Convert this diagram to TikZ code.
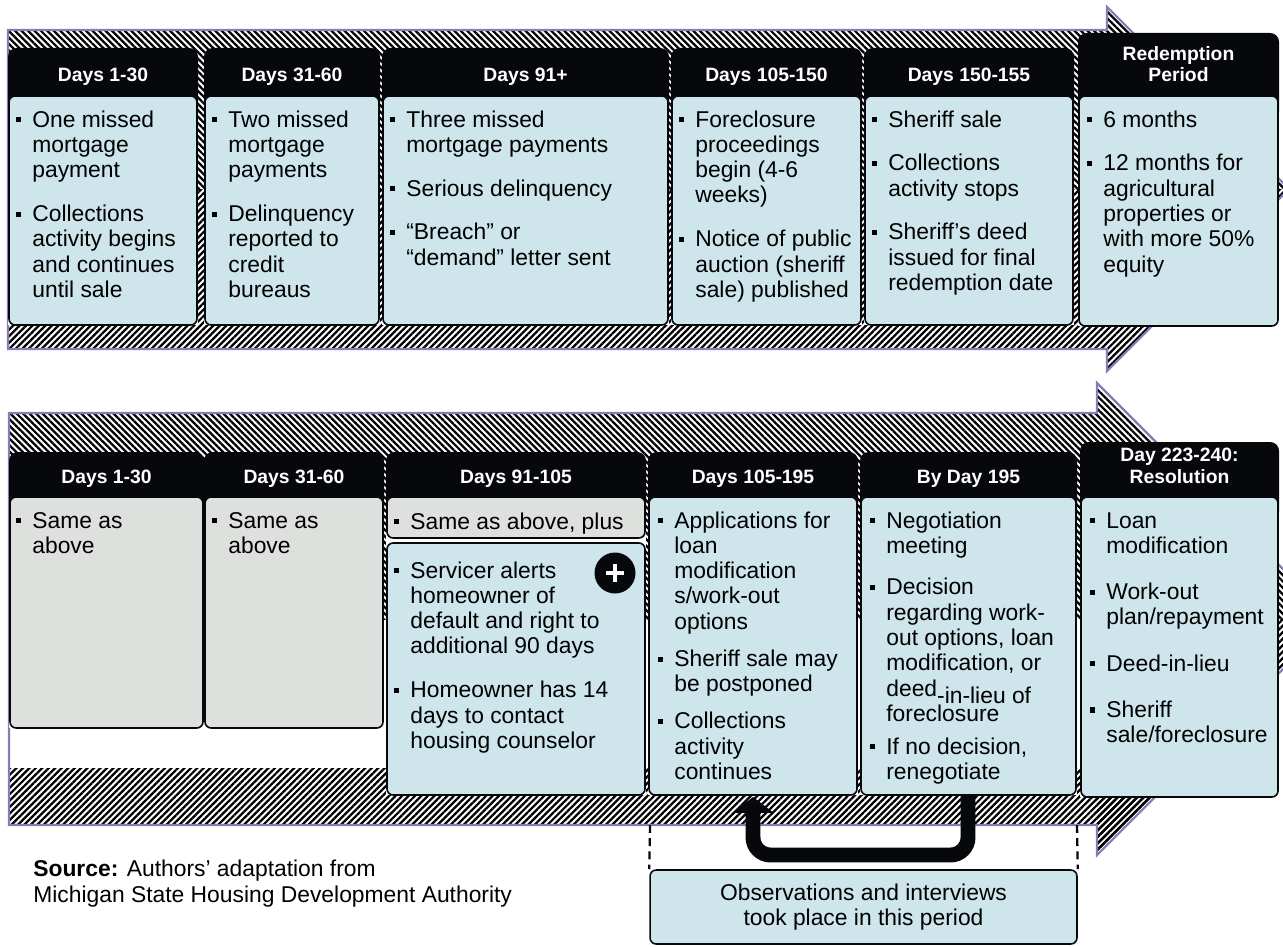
\documentclass[tikz,border=0pt]{standalone}
\usepackage{fontspec}
\setmainfont{Liberation Sans}
\usetikzlibrary{arrows.meta,patterns.meta}

\definecolor{cardblue}{RGB}{205,229,235}
\definecolor{cardgray}{RGB}{222,224,222}
\definecolor{headblack}{RGB}{6,8,12}
\definecolor{arrowrim}{RGB}{137,124,181}

\newcommand{\bodyfont}{\fontsize{13pt}{14.4pt}\selectfont}
\newcommand{\bul}{\strut\llap{\raisebox{2.7pt}{\rule{2.9pt}{2.9pt}}\hspace{6.3pt}}}
\newcommand{\twolines}[2]{\begin{tabular}[b]{@{}c@{}}#1\\#2\end{tabular}}
\newcommand*{\upperband}{(8,30) -- (1107,30) -- (1107,7) -- (1289,189) -- (1107,371) -- (1107,349) -- (8,349) -- cycle}
\newcommand*{\lowerband}{(9,413) -- (1097,413) -- (1097,383) -- (1333,619) -- (1097,855) -- (1097,825) -- (9,825) -- cycle}

% left, right, header top, card top, card bottom, title, name, card style
\newcommand{\stage}[8]{%
  \fill[white] (#1,#4) rectangle (#2,#5);
  \fill[headblk] (#1,#3) rectangle (#2,#4+24);
  \node[htext] (#7) at ({(#1+#2)/2},#4-14) {#6};
  \draw[#8] (#1+1,#4) rectangle (#2-1,#5);}

\begin{document}
\begin{tikzpicture}[x=0.02cm, y=-0.02cm,
    hatchdown/.style={pattern={Lines[angle=-45,distance=2.6pt,line width=1.3pt]}},
    hatchup/.style={pattern={Lines[angle=45,distance=2.6pt,line width=1.3pt]}},
    rim/.style={draw=arrowrim, line width=1.2pt},
    headblk/.style={fill=headblack, rounded corners=5pt},
    htext/.style={anchor=base, text=white, inner sep=0pt,
        font=\bfseries\fontsize{11pt}{12pt}\selectfont},
    card/.style={draw=headblack, line width=0.9pt, fill=cardblue, rounded corners=3.5pt},
    gcard/.style={card, fill=cardgray},
    btext/.style={anchor=north west, inner sep=0pt, align=left, font=\bodyfont},
    plusmark/.style={circle, fill=headblack, minimum size=0.82cm, inner sep=0pt,
        path picture={
          \draw[white, line width=1.9pt]
            (path picture bounding box.center) ++(-0.18cm,0) -- ++(0.36cm,0)
            (path picture bounding box.center) ++(0,-0.18cm) -- ++(0,0.36cm);}},
    loopback/.style={draw=headblack, line width=8.5pt, rounded corners=10pt,
        -{Triangle[width=23pt,length=9pt]}},
    period/.style={draw=headblack, line width=1.3pt, dash pattern=on 4.5pt off 3pt},
    note/.style={card, minimum width=8.54cm, minimum height=1.48cm, align=center,
        font=\fontsize{13pt}{14.2pt}\selectfont}
  ]
  \useasboundingbox (0,0) rectangle (1283,946);
  \clip (0,0) rectangle (1283,946);

  \fill[white] \upperband;
  \begin{scope}
    \clip \upperband;
    \fill[hatchdown] (0,0) rectangle (1300,189);
    \fill[hatchup] (0,189) rectangle (1300,380);
  \end{scope}
  \draw[rim] \upperband;

  \fill[white] \lowerband;
  \begin{scope}
    \clip \lowerband;
    \fill[hatchdown] (0,370) rectangle (1340,619);
    \fill[hatchup] (0,768) rectangle (1340,870);
    \fill[hatchup] (1097,619) rectangle (1340,870);
  \end{scope}
  \draw[rim] \lowerband;

  \stage{8}{198}{48}{96}{325}{Days 1-30}{h1}{card}
  \stage{204}{380}{48}{96}{325}{Days 31-60}{h2}{card}
  \stage{382}{669}{48}{96}{325}{Days 91+}{h3}{card}
  \stage{671}{862}{48}{96}{325}{Days 105-150}{h4}{card}
  \stage{864}{1074}{48}{96}{325}{Days 150-155}{h5}{card}
  \stage{1078}{1279}{33}{96}{326}{\twolines{Redemption}{Period}}{h6}{card}

  \node[btext] (t1) at (32,109) {\bul One missed\\mortgage\\payment\\[10.5pt]
    \bul Collections\\activity begins\\and continues\\until sale};
  \node[btext] (t2) at (228,109) {\bul Two missed\\mortgage\\payments\\[10.5pt]
    \bul Delinquency\\reported to\\credit\\bureaus};
  \node[btext] (t3) at (406,109) {\bul Three missed\\mortgage payments\\[10.5pt]
    \bul Serious delinquency\\[10.5pt]\bul “Breach” or\\“demand” letter sent};
  \node[btext] (t4) at (695,109) {\bul Foreclosure\\proceedings\\begin (4-6\\weeks)\\[10.5pt]
    \bul Notice of public\\auction (sheriff\\sale) published};
  \node[btext] (t5) at (888,109) {\bul Sheriff sale\\[10.5pt]\bul Collections\\activity stops\\[10.5pt]
    \bul Sheriff’s deed\\issued for final\\redemption date};
  \node[btext] (t6) at (1103,109) {\bul 6 months\\[10.5pt]\bul 12 months for\\agricultural\\properties or\\with more 50\%\\equity};

  \stage{9}{204}{452}{497}{728}{Days 1-30}{g1}{gcard}
  \stage{204}{384}{452}{497}{728}{Days 31-60}{g2}{gcard}
  \fill[white] (386,538) rectangle (646,795);
  \stage{386}{646}{452}{497}{538}{Days 91-105}{g3}{gcard}
  \draw[card] (387,543) rectangle (645,795);
  \stage{648}{858}{452}{497}{795}{Days 105-195}{g4}{card}
  \stage{860}{1077}{452}{497}{795}{By Day 195}{g5}{card}
  \stage{1080}{1279}{442}{497}{797}{\twolines{Day 223-240:}{Resolution}}{g6}{card}

  \node[btext] (s1) at (32,510) {\bul Same as\\above};
  \node[btext] (s2) at (228,510) {\bul Same as\\above};
  \node[btext] (s3) at (410,511) {\bul Same as above, plus};
  \node[btext] (s3b) at (410,560) {\bul Servicer alerts\\homeowner of\\default and right to\\additional 90 days\\[10.5pt]
    \bul Homeowner has 14\\days to contact\\housing counselor};
  \node[plusmark] (plus) at (615,573) {};
  \node[btext] (s4) at (674,510) {\bul Applications for\\loan\\modification\\s/work-out\\options\\[6.7pt]
    \bul Sheriff sale may\\be postponed\\[6.7pt]\bul Collections\\activity\\continues};
  \node[btext] (s5) at (886,510) {\bul Negotiation\\meeting\\[9.2pt]
    \bul Decision\\regarding work-\\out options, loan\\modification, or\\deed\smash{\raisebox{-4.5pt}{-in-lieu of}}\\foreclosure\\[4.3pt]
    \bul If no decision,\\renegotiate};
  \node[btext] (s6) at (1106,510) {\bul Loan\\modification\\[11.9pt]\bul Work-out\\plan/repayment\\[11.9pt]
    \bul Deed-in-lieu\\[11.9pt]\bul Sheriff\\sale/foreclosure};

  \coordinate (fromdecision) at (968,795);
  \coordinate (toapps) at (753,797);
  \draw[loopback] (fromdecision) -- (968,855) -| (toapps);

  \node[note] (obs) at (863.5,907) {Observations and interviews\\took place in this period};
  \coordinate (periodstart) at (650,825);
  \coordinate (periodend) at (1077,825);
  \draw[period] (periodstart) -- (obs.north west);
  \draw[period] (periodend) -- (obs.north east);

  \node[anchor=north west, inner sep=0pt, align=left, font=\bodyfont] (src) at (33,860)
    {\textbf{Source:} Authors’ adaptation from\\Michigan State Housing Development Authority};
\end{tikzpicture}
\end{document}
